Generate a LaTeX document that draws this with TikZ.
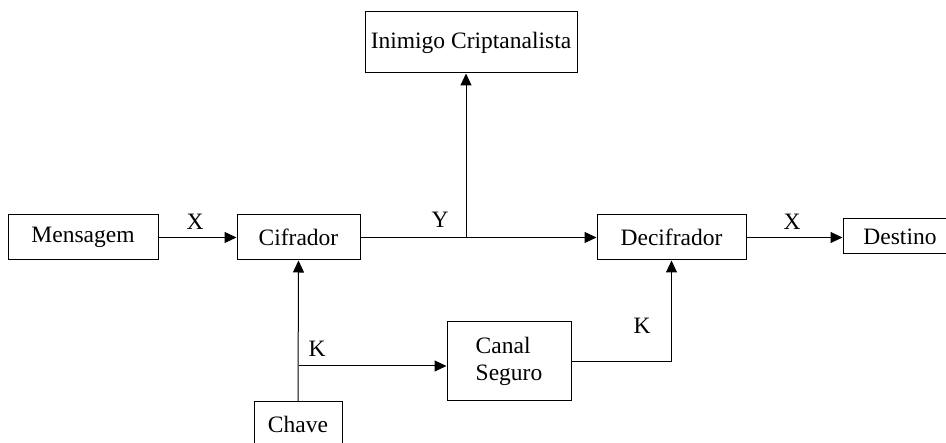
\documentclass[tikz,border=0pt]{standalone}
\usepackage{fontspec}
\setmainfont{Liberation Serif}
\usetikzlibrary{arrows.meta}
\tikzset{
  -|/.style={to path={-| (\tikztotarget) \tikztonodes}},
  flow/.style={-{Triangle[length=12pt,width=11pt]}, line width=1pt},
  lbl/.style={font=\fontsize{23.5}{27}\selectfont, inner sep=0pt}
}
\begin{document}
\begin{tikzpicture}[x=1pt,y=-1pt]
\useasboundingbox (0,0) rectangle (946,443);
\begin{scope}[nodes={shape=rectangle, draw, line width=1pt, inner sep=0pt, font=\fontsize{23.5}{27}\selectfont}]
  \node[minimum width=150pt, minimum height=45pt] (msg)   at ( 83  ,237.5) {Mensagem};
  \node[minimum width=123pt, minimum height=45pt] (cif)   at (298.5,237.5) {Cifrador};
  \node[minimum width=149pt, minimum height=45pt] (dec)   at (671.5,237.5) {Decifrador};
  \node[minimum width=114pt, minimum height=35pt] (dest)  at (900  ,236.5) {Destino};
  \node[minimum width=212pt, minimum height=61pt] (ini)   at (471  , 42.5) {Inimigo Criptanalista};
  \node[minimum width=124pt, minimum height=79pt, align=left] (canal) at (509,361.5) {Canal\\Seguro};
  \node[minimum width= 88pt, minimum height=44pt] (chave) at (298  ,424  ) {Chave};
\end{scope}
\coordinate (yj) at (466,237.5);
\coordinate (kj) at (298.5,366);
\path[flow] (msg)  edge (cif)
            (cif)  edge (dec)
            (dec.east) edge (dec.east -| dest.west)
            (yj)   edge (yj |- ini.south)
            (chave.north) edge (cif.south)
            (kj)   edge (kj -| canal.west)
            (canal.east) edge[-|] (dec.south);
\node[lbl] (x1) at (195,222) {X};
\node[lbl] (y1) at (440,220) {Y};
\node[lbl] (x2) at (792,222) {X};
\node[lbl] (k1) at (317,349) {K};
\node[lbl] (k2) at (642,326) {K};
\end{tikzpicture}
\end{document}
